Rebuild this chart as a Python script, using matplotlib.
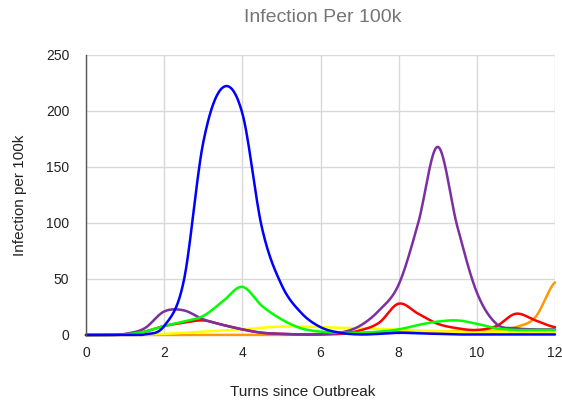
import numpy as np
import matplotlib
matplotlib.use("Agg")
import matplotlib.pyplot as plt

# turns since outbreak (half-turn samples)
turns = [0, 0.5, 1, 1.5, 2, 2.5, 3, 3.5, 4, 4.5, 5, 5.5, 6,
         6.5, 7, 7.5, 8, 8.5, 9, 9.5, 10, 10.5, 11, 11.5, 12]

orange = [0, 0, 0, 0, 0, 0, 0, 0, 0, 0, 0, 0.5, 1,
          1.5, 2, 2, 2.5, 3, 3, 3.5, 4, 4, 7, 16, 47]
yellow = [0, 0, 0, 0.5, 1, 2, 3, 4, 5, 6.5, 7.5, 7.5, 7,
          6.5, 6, 5.5, 5, 4, 3.5, 3, 3, 3, 3, 3, 3]
red = [0, 0, 0.5, 3, 8, 11, 13, 9, 5, 2, 1, 0.5, 0.5,
       1, 4, 11, 28, 19, 10, 6, 4.5, 8, 19, 13, 7]
purple = [0, 0, 1, 6, 21, 22, 14, 9, 5, 2, 1, 0.5, 0.5,
          2, 8, 22, 45, 100, 168, 97, 38, 10, 6, 5, 5]
green = [0, 0, 0.5, 3, 8, 12, 17, 30, 43, 26, 14, 6, 3,
         2, 2, 3, 5, 9, 12, 13, 10, 6, 4.5, 4.5, 4.5]
blue = [0, 0, 0, 0.5, 8, 48, 172, 221, 198, 96, 45, 20, 7,
        2, 0.5, 1, 2, 1.5, 1, 0.5, 0.5, 0.5, 0.5, 0.5, 0.5]

series = [
    (orange, "#ff9900"),
    (yellow, "#ffff00"),
    (red, "#ff0000"),
    (purple, "#7b2fa0"),
    (green, "#00ff00"),
    (blue, "#0000ff"),
]


def smooth(xs, ys, n=24):
    """Catmull-Rom curve through the points (like the sheet's smooth lines)."""
    xs = np.asarray(xs, float)
    ys = np.asarray(ys, float)
    px = np.concatenate([[2 * xs[0] - xs[1]], xs, [2 * xs[-1] - xs[-2]]])
    py = np.concatenate([[ys[0]], ys, [ys[-1]]])
    out_x, out_y = [], []
    t = np.linspace(0, 1, n, endpoint=False)
    for i in range(1, len(px) - 2):
        m0 = (py[i + 1] - py[i - 1]) / 2
        m1 = (py[i + 2] - py[i]) / 2
        h00 = 2 * t**3 - 3 * t**2 + 1
        h10 = t**3 - 2 * t**2 + t
        h01 = -2 * t**3 + 3 * t**2
        h11 = t**3 - t**2
        out_x.append(px[i] + t * (px[i + 1] - px[i]))
        out_y.append(h00 * py[i] + h10 * m0 + h01 * py[i + 1] + h11 * m1)
    out_x.append([xs[-1]])
    out_y.append([ys[-1]])
    return np.concatenate(out_x), np.clip(np.concatenate(out_y), 0, None)


plt.rcParams["font.family"] = ["Liberation Sans", "DejaVu Sans"]

fig = plt.figure(figsize=(5.62, 4.04), dpi=100)
ax = fig.add_axes([86 / 562, 1 - 335 / 404, (555 - 86) / 562, (335 - 55) / 404])

for ys, color in series:
    sx, sy = smooth(turns, ys)
    ax.plot(sx, sy, color=color, linewidth=1.8, solid_capstyle="round", clip_on=False)

ax.set_xlim(0, 12)
ax.set_ylim(0, 250)
ax.set_xticks(range(0, 13, 2))
ax.set_yticks(range(0, 251, 50))
ax.grid(True, color="#d9d9d9", linewidth=1.0)
ax.set_axisbelow(True)
for side in ("top", "right", "bottom"):
    ax.spines[side].set_visible(False)
ax.spines["left"].set_color("#555555")
ax.spines["left"].set_linewidth(1.0)
ax.tick_params(axis="both", length=0, labelsize=10, labelcolor="#222222")
ax.tick_params(axis="x", pad=8)
ax.tick_params(axis="y", pad=12)

ax.set_ylabel("Infection per 100k", fontsize=11, color="#222222", labelpad=14)
fig.text(303 / 562, 1 - 392 / 404, "Turns since Outbreak", fontsize=11,
         color="#222222", ha="center", va="center")
fig.text(323 / 562, 1 - 18 / 404, "Infection Per 100k", fontsize=14,
         color="#757575", ha="center", va="center")

fig.savefig("out.png", dpi=100)
